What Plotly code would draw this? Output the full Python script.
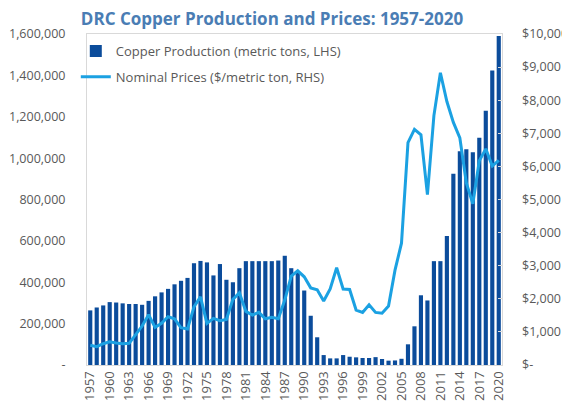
import plotly.graph_objects as go

years = list(range(1957, 2021))

production = [
    264000, 278000, 288000, 304000, 302000, 298000, 295000, 295000, 291000, 310000,
    332000, 351000, 368000, 390000, 407000, 421000, 492000, 503000, 496000, 433000,
    488000, 412000, 400000, 468000, 502000, 502000, 502000, 502000, 502000, 505000,
    528000, 468000, 445000, 360000, 238000, 134000, 48000, 32000, 32000, 48000,
    40000, 37000, 34000, 34000, 38000, 29000, 21000, 22000, 30000, 100000,
    187000, 337000, 312000, 502000, 502000, 623000, 925000, 1033000, 1043000, 1028000,
    1099000, 1229000, 1424000, 1590000,
]

prices = [
    594, 552, 643, 703, 664, 643, 655, 905, 1177, 1517,
    1137, 1258, 1457, 1397, 1125, 1086, 1759, 2060, 1258, 1409,
    1336, 1379, 1982, 2181, 1620, 1508, 1590, 1397, 1439, 1397,
    1961, 2685, 2845, 2664, 2330, 2275, 1935, 2300, 2940, 2295,
    2280, 1660, 1590, 1820, 1590, 1565, 1780, 2865, 3680, 6720,
    7120, 6955, 5150, 7535, 8830, 7960, 7330, 6860, 5500, 4870,
    6170, 6530, 6010, 6180,
]

x_tick_years = [y for y in years if (y - 1957) % 3 == 0]

left_ticks = [0, 200000, 400000, 600000, 800000, 1000000, 1200000, 1400000, 1600000]
left_labels = ["-" if v == 0 else f"{v:,}" for v in left_ticks]
right_ticks = list(range(0, 10001, 1000))
right_labels = ["$-" if v == 0 else f"${v:,}" for v in right_ticks]

fig = go.Figure()
fig.add_trace(go.Bar(
    x=years, y=production, name="Copper Production (metric tons, LHS)",
    marker=dict(color="#0b4c9b", line=dict(width=0)), legendgroup="a",
))
fig.add_trace(go.Scatter(
    x=years, y=prices, name="Nominal Prices ($/metric ton, RHS)", yaxis="y2",
    mode="lines", line=dict(color="#1ba1e2", width=3), legendgroup="b",
))

tickfont = dict(family="Open Sans", size=12.5, color="#595959")

# page body adds an 8px offset; figure is sized to fill the rest of the window
W, H = 562, 400

fig.update_layout(
    width=W, height=H,
    margin=dict(l=79, r=68, t=26, b=43, autoexpand=False),
    paper_bgcolor="white", plot_bgcolor="white",
    bargap=0.36,
    title=dict(
        text="<b>DRC Copper Production and Prices: 1957-2020</b>",
        font=dict(family="Open Sans", size=17, color="#4a7db4"),
        x=264 / W, xanchor="center", y=1 - 11 / H, yanchor="middle",
    ),
    xaxis=dict(
        range=[1956.5, 2020.5], tickmode="array", tickvals=x_tick_years,
        ticktext=[str(y) for y in x_tick_years], tickangle=-90,
        tickfont=dict(family="Open Sans", size=13, color="#595959"),
        showgrid=False, showline=True, linecolor="#d9d9d9", mirror=True,
        ticks="", zeroline=False, automargin=False,
    ),
    yaxis=dict(
        range=[0, 1600000], tickmode="array", tickvals=left_ticks,
        ticktext=left_labels,
        tickfont=tickfont, showgrid=False, showline=True, linecolor="#d9d9d9",
        mirror=True, ticks="outside", ticklen=18, tickcolor="rgba(0,0,0,0)",
        zeroline=False, automargin=False,
    ),
    yaxis3=dict(
        range=[0, 1600000], tickmode="array", tickvals=left_ticks,
        overlaying="y", side="left", anchor="x", showticklabels=False,
        showgrid=False, showline=False, ticks="inside", ticklen=4,
        tickcolor="#d9d9d9", zeroline=False, automargin=False,
    ),
    yaxis2=dict(
        range=[0, 10000], tickmode="array", tickvals=right_ticks, ticktext=right_labels,
        tickfont=tickfont, overlaying="y", side="right", showgrid=False,
        showline=False, ticks="inside", ticklen=4, tickcolor="#d9d9d9",
        ticklabelstandoff=19, zeroline=False, automargin=False,
    ),
    legend=dict(
        x=-0.027, y=0.994, xanchor="left", yanchor="top",
        font=dict(family="Open Sans", size=13, color="#595959"),
        bgcolor="rgba(255,255,255,0)", tracegroupgap=6, itemwidth=30,
    ),
    showlegend=True,
)

fig.write_html("out.html")
